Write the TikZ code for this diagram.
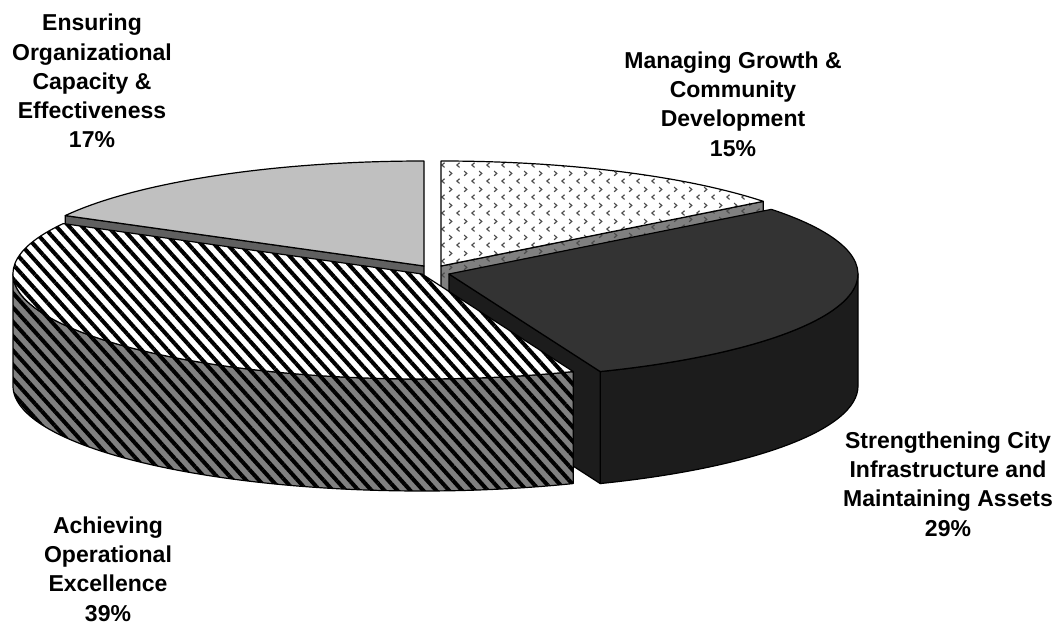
\documentclass[tikz,border=0pt]{standalone}
\usepackage{fontspec}
\setmainfont{Liberation Sans}
\usepackage{xcolor}
\usetikzlibrary{positioning,calc,patterns.meta}

\definecolor{ensgray}{HTML}{C0C0C0}
\definecolor{enswall}{HTML}{606060}
\definecolor{midgray}{HTML}{808080}
\definecolor{strtop}{HTML}{333333}
\definecolor{strside}{HTML}{1C1C1C}

\pgfdeclarepattern{name=chevrons, type=uncolored,
  bottom left={\pgfpoint{0pt}{0pt}}, top right={\pgfpoint{7.6pt}{7.8pt}},
  tile size={\pgfpoint{7.6pt}{7.8pt}},
  code={
    \pgfsetlinewidth{0.6pt}
    \pgfpathmoveto{\pgfpoint{2.4pt}{2.7pt}}
    \pgfpathlineto{\pgfpoint{1.0pt}{1.5pt}}
    \pgfpathlineto{\pgfpoint{2.4pt}{0.3pt}}
    \pgfpathmoveto{\pgfpoint{4.8pt}{6.6pt}}
    \pgfpathlineto{\pgfpoint{6.2pt}{5.4pt}}
    \pgfpathlineto{\pgfpoint{4.8pt}{4.2pt}}
    \pgfusepath{stroke}
  }}

\begin{document}
\begin{tikzpicture}[x=0.5pt,y=0.5pt,line width=0.6pt,line join=round,
  stripes/.style={pattern={Lines[angle=-48,distance=4.8pt,line width=2pt]}},
  dots/.style={pattern=chevrons,pattern color=black!70},
  lbl/.style={align=center,font=\fontsize{11.5}{14.6}\selectfont\bfseries}]
\tikzstyle{every node}+=[inner sep=0pt]
\useasboundingbox (0,0) rectangle (1055,623);
\coordinate (ens) at (424,357);
\coordinate (man) at (441,357);
\coordinate (str) at (449,349);
\coordinate (ach) at (422,349);
% Ensuring
\draw [fill=enswall] (ens) -- ++(151.3:409 and 105) -- ++(0,-112) -- ($(ens)+(0,-112)$) -- cycle;
\draw [fill=ensgray] (ens) -- ++(90:409 and 105) arc (90:151.3:409 and 105) -- cycle;
% Managing
\draw [preaction={fill=midgray},dots] (man) -- ++(38:409 and 105) -- ++(0,-112) -- ($(man)+(0,-112)$) -- cycle;
\draw [preaction={fill=white},dots] (man) -- ++(38:409 and 105) arc (38:90:409 and 105) -- cycle;
% Strengthening
\draw [fill=strside] ($(str)+(-68.3:409 and 105)$) arc (-68.3:0:409 and 105) -- ++(0,-112) arc (0:-68.3:409 and 105) -- cycle;
\draw [fill=strside] (str) -- ++(-68.3:409 and 105) -- ++(0,-112) -- ($(str)+(0,-112)$) -- cycle;
\draw [fill=strtop] (str) -- ++(-68.3:409 and 105) arc (-68.3:38:409 and 105) -- cycle;
% Achieving
\draw [preaction={fill=midgray},stripes] ($(ach)+(180:409 and 105)$) arc (180:291.7:409 and 105) -- ++(0,-112) arc (291.7:180:409 and 105) -- cycle;
\draw [preaction={fill=white},stripes] (ach) -- ++(151.3:409 and 105) arc (151.3:291.7:409 and 105) -- cycle;
% labels
\node [lbl] (ensl) at (92,542) {Ensuring\\Organizational\\Capacity \&\\Effectiveness\\17\%};
\node [lbl] (manl) at (733,519) {Managing Growth \&\\Community\\Development\\15\%};
\node [lbl] (strl) at (948,139) {Strengthening City\\Infrastructure and\\Maintaining Assets\\29\%};
\node [lbl] (achl) at (108,54) {Achieving\\Operational\\Excellence\\39\%};
\end{tikzpicture}
\end{document}
